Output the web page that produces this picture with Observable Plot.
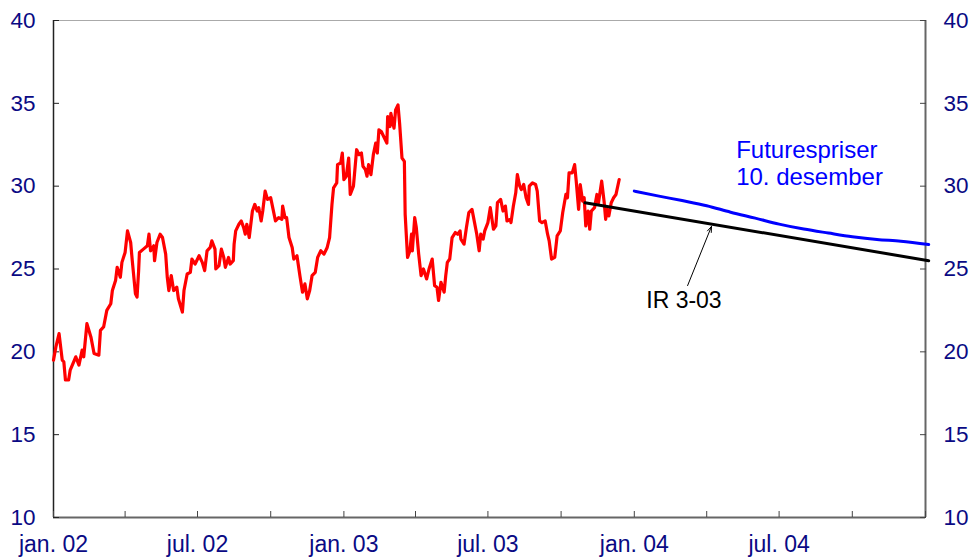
<!DOCTYPE html>
<html><head><meta charset="utf-8">
<script src="https://cdn.jsdelivr.net/npm/d3@7"></script>
<script src="https://cdn.jsdelivr.net/npm/@observablehq/plot@0.6"></script>
<style>html,body{margin:0;padding:0;background:#fff;}</style>
</head><body><div id="chart"></div>
<script>
// Oil price (days since 1 Jan 2002, value)
const oilStart = "2002-01-01";
const oilDays = [0,3,7,11,13,15,19,21,28,32,36,38,42,47,51,57,59,63,67,72,74,78,80,84,86,90,93,97,99,103,105,107,108,113,118,120,122,126,127,130,134,137,141,143,145,148,151,155,157,162,164,168,172,174,178,183,187,190,193,197,199,203,204,208,211,214,216,220,222,226,227,229,233,236,239,241,243,246,250,253,256,258,261,263,266,269,273,276,279,283,287,288,291,293,296,300,302,306,310,313,316,319,322,325,329,332,336,340,344,347,350,352,356,357,361,363,365,368,371,373,377,381,384,387,389,392,394,396,399,402,405,407,409,412,415,419,420,423,424,428,430,433,435,438,441,442,445,448,450,451,454,456,459,462,465,469,472,476,479,482,484,487,491,493,495,498,501,505,508,511,512,516,519,522,526,528,532,535,537,540,542,546,549,553,556,558,562,565,568,570,574,575,578,581,583,586,588,591,594,597,598,602,606,608,611,614,618,621,623,626,630,633,637,640,644,646,648,652,655,657,660,662,665,667,669,672,674,676,680,683,685,689,692,694,696,698,701,704,707,711];
const oilPrices = [19.5,20.3,21.1,19.5,19.4,18.3,18.3,18.9,19.7,19.2,20.1,19.7,21.7,20.9,19.9,19.8,21.3,21.5,22.5,22.9,23.7,24.3,25.1,24.5,25.4,26.0,27.3,26.6,25.5,23.5,23.3,24.9,26.0,26.2,26.4,27.1,26.1,26.4,25.5,26.6,27.1,26.9,25.9,24.5,23.7,24.6,23.7,23.9,23.2,22.4,23.7,24.7,24.8,25.6,25.3,25.8,25.4,24.9,26.1,26.3,26.7,26.2,25.0,25.2,26.2,25.7,25.1,25.7,25.3,25.5,26.5,27.3,27.7,27.9,27.5,27.1,27.7,26.9,28.5,28.9,28.5,28.7,27.9,28.5,29.7,29.2,29.3,28.6,27.9,28.1,28.0,28.8,28.1,28.1,26.9,26.3,25.6,25.8,24.5,23.6,24.1,23.2,23.7,24.6,24.8,25.7,26.1,25.9,26.3,26.9,28.9,29.9,30.2,31.3,31.4,32.0,30.4,30.6,31.7,29.5,30.0,32.2,31.9,32.0,31.2,31.0,30.6,31.3,30.7,31.9,32.6,32.0,33.4,33.3,33.0,32.6,34.2,33.6,34.4,33.5,34.6,34.9,33.8,31.7,31.5,28.3,25.7,26.1,27.1,26.1,28.1,27.5,25.9,24.6,25.0,24.4,25.0,25.6,24.0,23.9,23.1,24.2,23.6,24.6,25.4,25.6,26.9,27.2,27.1,27.3,26.8,26.5,27.5,28.4,28.6,28.1,27.1,26.1,27.1,26.8,27.3,27.8,28.7,27.4,27.6,29.0,29.2,28.5,28.8,27.9,28.0,27.8,28.8,29.6,30.7,30.0,29.8,30.1,29.3,28.9,30.0,30.2,30.1,29.7,27.9,27.8,27.9,27.1,26.7,25.6,25.7,27.0,27.3,28.4,29.5,29.3,30.8,30.8,31.3,30.3,28.6,30.1,29.1,29.3,27.6,28.5,27.4,28.5,28.7,29.5,29.0,30.3,29.1,28.0,28.6,28.2,29.0,29.3,29.5,30.4];

// Futures prices 10 December
const futuresDates = ["2004-01-01","2004-02-01","2004-03-01","2004-04-01","2004-05-01","2004-06-01","2004-07-01","2004-08-01","2004-09-01","2004-10-01","2004-11-01","2004-12-01","2005-01-05"];
const futuresPrices = [29.70,29.40,29.13,28.82,28.43,28.07,27.71,27.41,27.17,26.95,26.78,26.68,26.48];

// IR 3-03 assumption
const irDates = ["2003-10-31","2005-01-05"];
const irPrices = [29.0,25.5];

// Axes
const xDomain = ["2002-01-01","2005-01-01"];
const yDomain = [10,40];
const yTicks = [10,15,20,25,30,35,40];
const xTickDates = ["2002-01-01","2002-04-01","2002-07-01","2002-10-01","2003-01-01","2003-04-01","2003-07-01","2003-10-01","2004-01-01","2004-04-01","2004-07-01","2004-10-01","2005-01-01"];
const xLabelDates = ["2002-01-01","2002-07-01","2003-01-01","2003-07-01","2004-01-01","2004-07-01"];
const xLabels = ["jan. 02","jul. 02","jan. 03","jul. 03","jan. 04","jul. 04"];

// Annotations
const futuresLabel = {date:"2004-05-08", value:30.1, text:"Futurespriser\n10. desember"};
const irLabel = {date:"2004-01-16", value:22.62, text:"IR 3-03"};
const arrowDates = ["2004-03-08","2004-04-07"];
const arrowValues = [24.0,27.57];

const navy = "#0a0a84";
const t0 = Date.parse(oilStart);
const oil = oilDays.map((d,i)=>({date:new Date(t0 + d*864e5), value:oilPrices[i]}));
const futures = futuresDates.map((d,i)=>({date:new Date(d), value:futuresPrices[i]}));
const ir = irDates.map((d,i)=>({date:new Date(d), value:irPrices[i]}));
const xd = xDomain.map(d=>new Date(d));
const labelMap = new Map(xLabelDates.map((d,i)=>[+new Date(d), xLabels[i]]));

const chart = Plot.plot({
  width:973, height:558,
  marginLeft:53, marginRight:48, marginTop:20, marginBottom:41,
  style:{fontFamily:"'Liberation Sans', Arial, sans-serif", background:"#fff", overflow:"visible"},
  x:{type:"utc", domain:xd},
  y:{domain:yDomain},
  marks:[
    Plot.ruleY([yDomain[1]], {stroke:"#aaa", strokeWidth:1}),
    Plot.ruleY([yDomain[0]], {stroke:"#666", strokeWidth:2}),
    Plot.ruleX([xd[0]], {stroke:"#222", strokeWidth:1.5}),
    Plot.ruleX([xd[1]], {stroke:"#666", strokeWidth:2}),
    Plot.axisY({anchor:"left", ticks:yTicks, tickSize:6, dx:6, tickPadding:18, fontSize:22.5, fill:navy, stroke:"#222", label:null}),
    Plot.axisY({anchor:"right", ticks:yTicks, tickSize:6, dx:-6, tickPadding:18, fontSize:22.5, fill:navy, stroke:"#444", label:null}),
    Plot.axisX({anchor:"bottom", ticks:xTickDates.map(d=>new Date(d)), tickSize:6, dy:-6, tickPadding:18,
      tickFormat:d=>labelMap.get(+d)||"", fontSize:23, fill:navy, stroke:"#444", label:null}),
    Plot.line(oil, {x:"date", y:"value", stroke:"#ff0000", strokeWidth:3.2, strokeLinejoin:"round"}),
    Plot.line(ir, {x:"date", y:"value", stroke:"#000", strokeWidth:3}),
    Plot.line(futures, {x:"date", y:"value", stroke:"#0000ff", strokeWidth:3, curve:"monotone-x"}),
    Plot.text([futuresLabel], {x:d=>new Date(d.date), y:"value", text:"text", textAnchor:"start", lineAnchor:"bottom", lineHeight:1.125, fontSize:24, fill:"#0000ff"}),
    Plot.text([irLabel], {x:d=>new Date(d.date), y:"value", text:"text", textAnchor:"start", lineAnchor:"bottom", fontSize:23, fill:"#000"}),
    Plot.arrow([0], {x1:()=>new Date(arrowDates[0]), y1:()=>arrowValues[0], x2:()=>new Date(arrowDates[1]), y2:()=>arrowValues[1], stroke:"#000", strokeWidth:1, headLength:9, headAngle:40})
  ]
});
document.getElementById("chart").appendChild(chart);
</script>
</body></html>
